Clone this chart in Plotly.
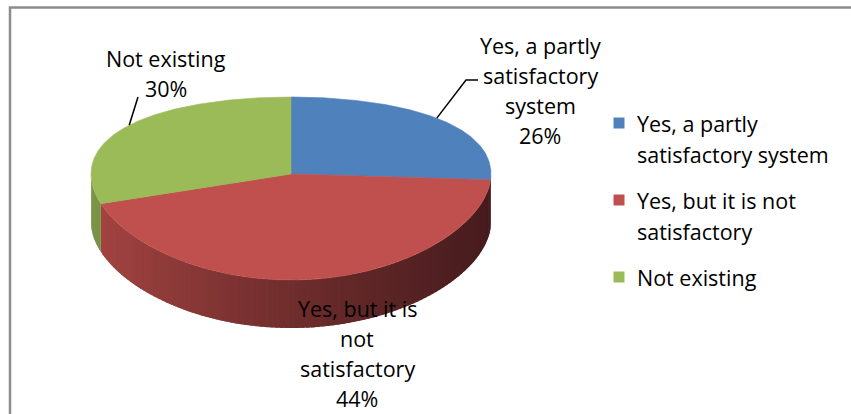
import math
import plotly.graph_objects as go

# ---------------- data ----------------
labels = ["Yes, a partly satisfactory system", "Yes, but it is not satisfactory", "Not existing"]
values = [26, 44, 30]
colors = ["#4F81BD", "#C0504D", "#9BBB59"]
side_dark = [((60, 98, 150), (30, 52, 88)), ((168, 70, 67), (70, 27, 29)), ((122, 150, 70), (80, 100, 45))]
label_lines = [["Yes, a partly", "satisfactory", "system"],
               ["Yes, but it is", "not", "satisfactory"],
               ["Not existing"]]
legend_lines = [["Yes, a partly", "satisfactory system"],
                ["Yes, but it is not", "satisfactory"],
                ["Not existing"]]

# ---------------- layout constants ----------------
W, H = 851, 414
CX, C0, RX = 291, 174, 200
A_Y = 91.5
B_Y = 14.5
DEPTH = 48
FONT = "Open Sans, Lato, sans-serif"
FS = 21.5

label_pos = [(540, 45), (357, 308), (166, 58)]
LINE_H = 30
leader_ends = [[(466, 80), (478, 80)], None, [(138, 97)]]

legend_sq_x, legend_txt_x = 619, 635
legend_y = [123, 200, 277]
LEG_LINE_H = 31


def pt(theta_deg):
    t = math.radians(theta_deg)
    s, c = math.sin(t), math.cos(t)
    return CX + RX * c, C0 - A_Y * s + B_Y * s * s


def lerp(c1, c2, t):
    t = max(0.0, min(1.0, t))
    return "rgb(%d,%d,%d)" % tuple(round(a + (b - a) * t) for a, b in zip(c1, c2))


fig = go.Figure()
total = sum(values)

# slice angular extents (clockwise from 12 o'clock)
spans = []
start = 90.0
for v in values:
    end = start - 360.0 * v / total
    spans.append((end, start))
    start = end

# ---- side walls (front half only: theta in [-180, 0]) ----
for i, (a_end, a_start) in enumerate(spans):
    lo, hi = max(a_end, -180.0), min(a_start, 0.0)
    if lo >= hi:
        continue
    n = max(1, int(math.ceil((hi - lo) / 1.5)))
    for k in range(n):
        ta = lo + (hi - lo) * k / n
        tb = min(hi, lo + (hi - lo) * (k + 1) / n + 1.2)  # overlap next strip to hide seams
        m = max(2, int((tb - ta) / 0.4) + 1)
        top = [pt(ta + (tb - ta) * j / (m - 1)) for j in range(m)]
        xs = [p[0] for p in top] + [p[0] for p in reversed(top)] + [top[0][0]]
        ys = [p[1] for p in top] + [p[1] + DEPTH for p in reversed(top)] + [top[0][1]]
        xm = pt(lo + (hi - lo) * (k + 0.5) / n)[0]
        tcol = ((xm - (CX - RX)) / (2 * RX)) ** 0.8
        col = lerp(side_dark[i][0], side_dark[i][1], tcol)
        fig.add_trace(go.Scatter(x=xs, y=ys, mode="lines", fill="toself",
                                 fillcolor=col, line=dict(width=0),
                                 hoverinfo="skip", showlegend=False))

# ---- top faces ----
for i, (a_end, a_start) in enumerate(spans):
    m = max(3, int((a_start - a_end) / 0.5) + 1)
    arc = [pt(a_start - (a_start - a_end) * j / (m - 1)) for j in range(m)]
    xs = [CX] + [p[0] for p in arc] + [CX]
    ys = [C0] + [p[1] for p in arc] + [C0]
    fig.add_trace(go.Scatter(x=xs, y=ys, mode="lines", fill="toself",
                             fillcolor=colors[i], line=dict(color=colors[i], width=0.6),
                             hoverinfo="skip", showlegend=False, name=labels[i]))

# ---- data labels + leader lines ----
annotations = []
for i, (a_end, a_start) in enumerate(spans):
    pct = "%d%%" % round(100.0 * values[i] / total)
    lines = label_lines[i] + [pct]
    lx, ly = label_pos[i]
    for j, txt in enumerate(lines):
        annotations.append(dict(x=lx, y=ly + j * LINE_H, xref="x", yref="y", text=txt,
                                showarrow=False, xanchor="center", yanchor="middle",
                                font=dict(family=FONT, size=FS, color="#000000")))
    if leader_ends[i]:
        mid = (a_end + a_start) / 2
        p0 = pt(mid)
        pts = [p0] + leader_ends[i]
        fig.add_trace(go.Scatter(x=[p[0] for p in pts], y=[p[1] for p in pts], mode="lines",
                                 line=dict(color="#000000", width=1.5),
                                 hoverinfo="skip", showlegend=False))

# ---- legend (manual) ----
fig.add_trace(go.Scatter(x=[legend_sq_x] * len(values), y=legend_y, mode="markers",
                         marker=dict(symbol="square", size=11, color=colors),
                         hoverinfo="skip", showlegend=False))
for i, lines in enumerate(legend_lines):
    for j, txt in enumerate(lines):
        annotations.append(dict(x=legend_txt_x, y=legend_y[i] + j * LEG_LINE_H, xref="x", yref="y",
                                text=txt, showarrow=False, xanchor="left", yanchor="middle",
                                font=dict(family=FONT, size=FS, color="#000000")))

fig.update_layout(
    width=W, height=H,
    margin=dict(l=0, r=0, t=0, b=0),
    paper_bgcolor="white", plot_bgcolor="white",
    xaxis=dict(range=[0, W], visible=False, fixedrange=True),
    yaxis=dict(range=[H, 0], visible=False, fixedrange=True),
    annotations=annotations,
    shapes=[dict(type="rect", xref="x", yref="y", x0=10, y0=7.5, x1=W + 20, y1=H + 20,
                 line=dict(color="#8C8C8C", width=2.5), fillcolor="rgba(0,0,0,0)", layer="below")],
    showlegend=False,
)

fig.write_html("out.html")
